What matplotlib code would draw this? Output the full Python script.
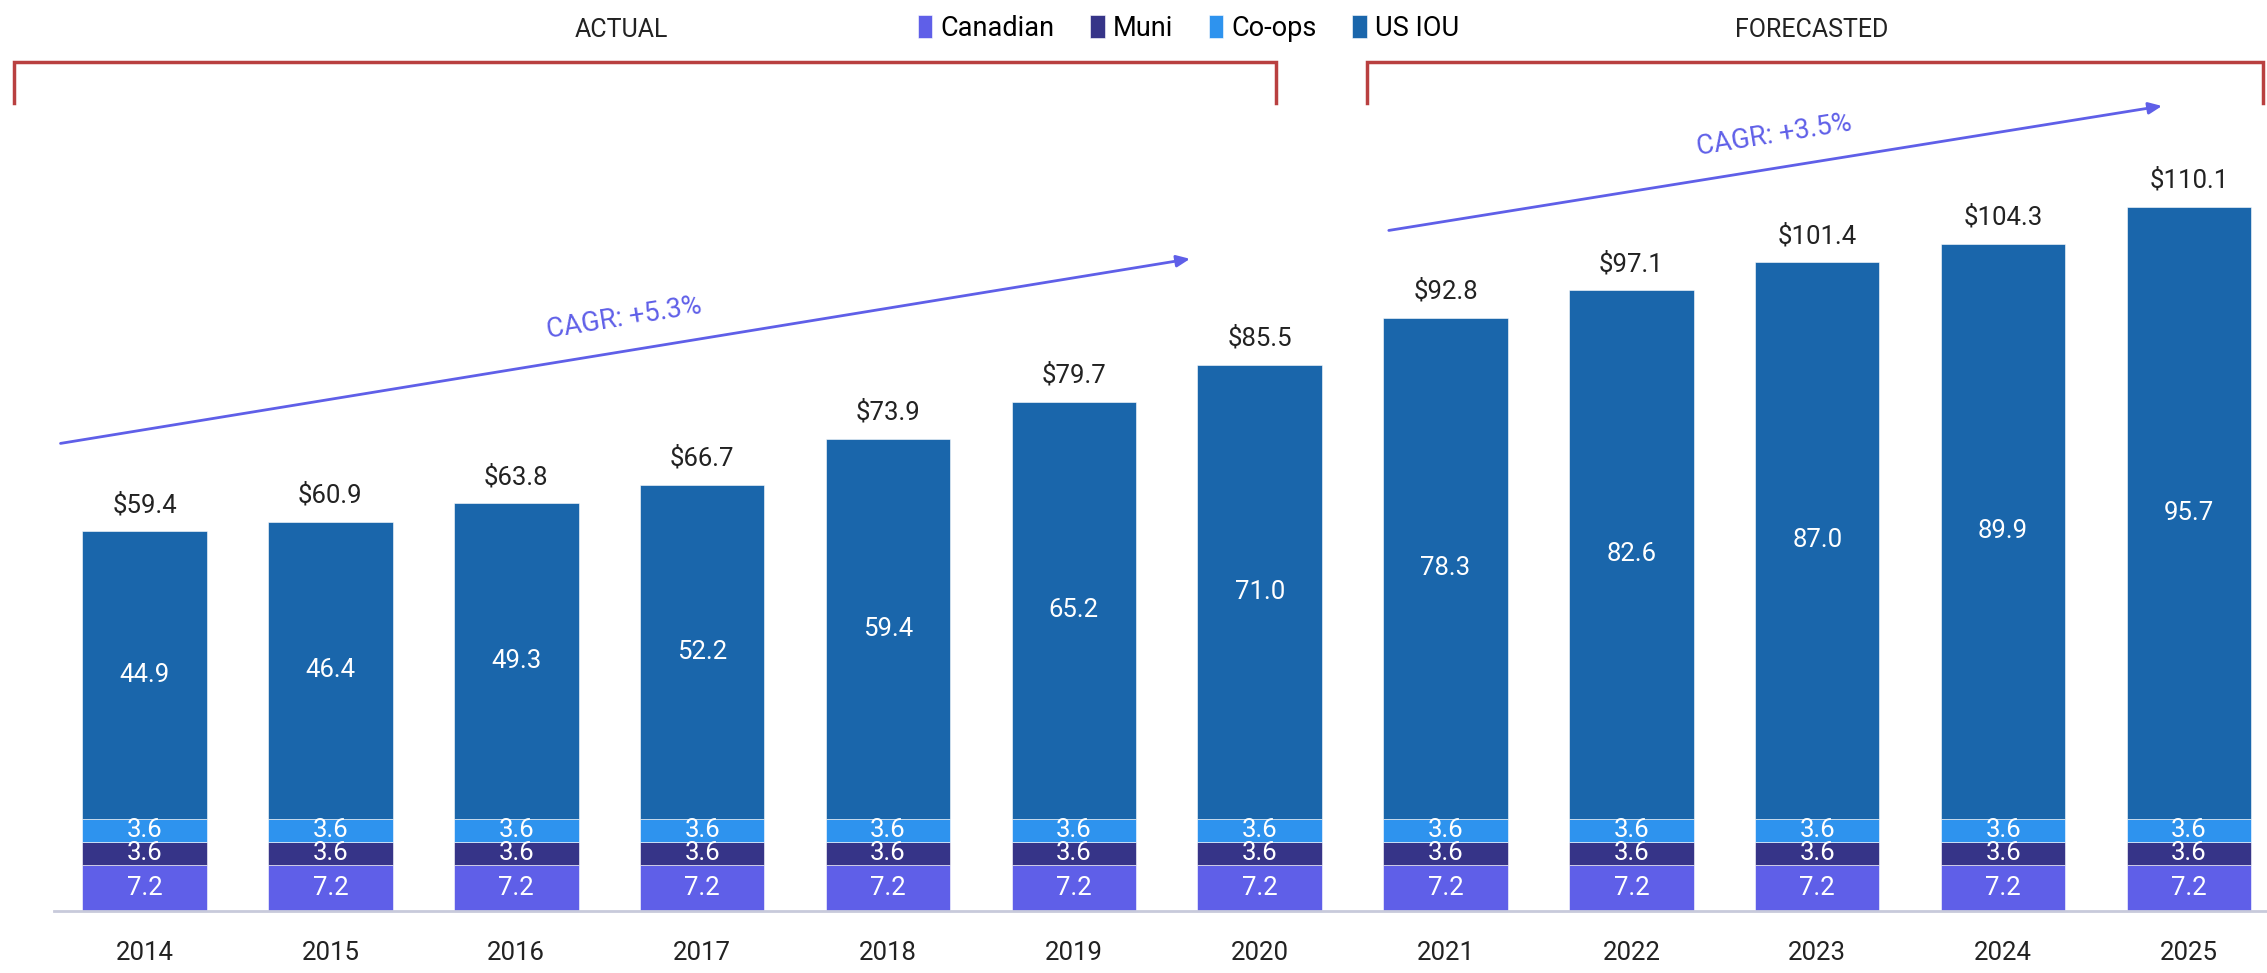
import matplotlib.pyplot as plt
import numpy as np

plt.rcParams["font.family"] = ["Roboto", "DejaVu Sans"]

years = ["2014", "2015", "2016", "2017", "2018", "2019", "2020",
         "2021", "2022", "2023", "2024", "2025"]
canadian = [7.2] * 12
muni = [3.6] * 12
coops = [3.6] * 12
us_iou = [44.9, 46.4, 49.3, 52.2, 59.4, 65.2, 71.0, 78.3, 82.6, 87.0, 89.9, 95.7]
totals = [59.4, 60.9, 63.8, 66.7, 73.9, 79.7, 85.5, 92.8, 97.1, 101.4, 104.3, 110.1]

series = [("Canadian", canadian, "#5f5fe8"),
          ("Muni", muni, "#363488"),
          ("Co-ops", coops, "#2e93ee"),
          ("US IOU", us_iou, "#1a66ab")]

fig = plt.figure(figsize=(22.67, 9.73), dpi=100)
ax = fig.add_axes([0.0236, 0.064, 0.9764, 0.936])

x = np.arange(len(years))
bottom = np.zeros(len(years))
for name, vals, col in series:
    ax.bar(x, vals, 0.67, bottom=bottom, color=col, label=name,
           edgecolor="#ffffff", linewidth=0.4)
    for xi, b, v in zip(x, bottom, vals):
        ax.text(xi, b + v / 2, f"{v:.1f}", ha="center", va="center",
                color="white", fontsize=18.5)
    bottom += np.array(vals)

for xi, top, t in zip(x, bottom, totals):
    ax.annotate(f"${t:.1f}", (xi, top), xytext=(0, 10), textcoords="offset points",
                ha="center", va="bottom", fontsize=18.5, color="#222222")

ax.set_xlim(-0.49, 11.42)
ax.set_ylim(0, 142.4)
ax.set_xticks(x)
ax.set_xticklabels(years, fontsize=18.5, color="#222222")
ax.tick_params(axis="x", length=0, pad=22)
ax.set_yticks([])
for s in ["top", "right", "left"]:
    ax.spines[s].set_visible(False)
ax.spines["bottom"].set_color("#c8cadb")
ax.spines["bottom"].set_linewidth(2)

# brackets
red = "#b94040"
for x0, x1 in [(-0.70, 6.09), (6.58, 11.40)]:
    ax.plot([x0, x0, x1, x1], [126.3, 132.7, 132.7, 126.3], color=red, lw=2.5,
            clip_on=False, solid_joinstyle="miter")
fig.text(430 / 1568, 1 - 21 / 673, "ACTUAL", ha="center", va="center", fontsize=18, color="#222222")
fig.text(1253 / 1568, 1 - 21 / 673, "FORECASTED", ha="center", va="center", fontsize=18, color="#222222")

# CAGR arrows
arrow_col = "#5f5fe8"
ax.annotate("", xy=(5.64, 102.0), xytext=(-0.467, 73.0),
            arrowprops=dict(arrowstyle="-|>,head_length=0.8,head_width=0.35", color=arrow_col, lw=2))
ax.annotate("", xy=(10.87, 125.9), xytext=(6.68, 106.3),
            arrowprops=dict(arrowstyle="-|>,head_length=0.8,head_width=0.35", color=arrow_col, lw=2))
ax.text(2.58, 92.6, "CAGR: +5.3%", rotation=9.2, ha="center", va="center",
        fontsize=19.5, color=arrow_col, rotation_mode="anchor")
ax.text(8.77, 121.3, "CAGR: +3.5%", rotation=9.1, ha="center", va="center",
        fontsize=19.5, color=arrow_col, rotation_mode="anchor")

fig.legend(loc="upper center", bbox_to_anchor=(822 / 1568, 1.01), ncol=4, frameon=False,
           fontsize=19.5, handlelength=0.55, handleheight=0.9, handletextpad=0.3,
           columnspacing=1.3)

fig.savefig("out.png", dpi=100)
